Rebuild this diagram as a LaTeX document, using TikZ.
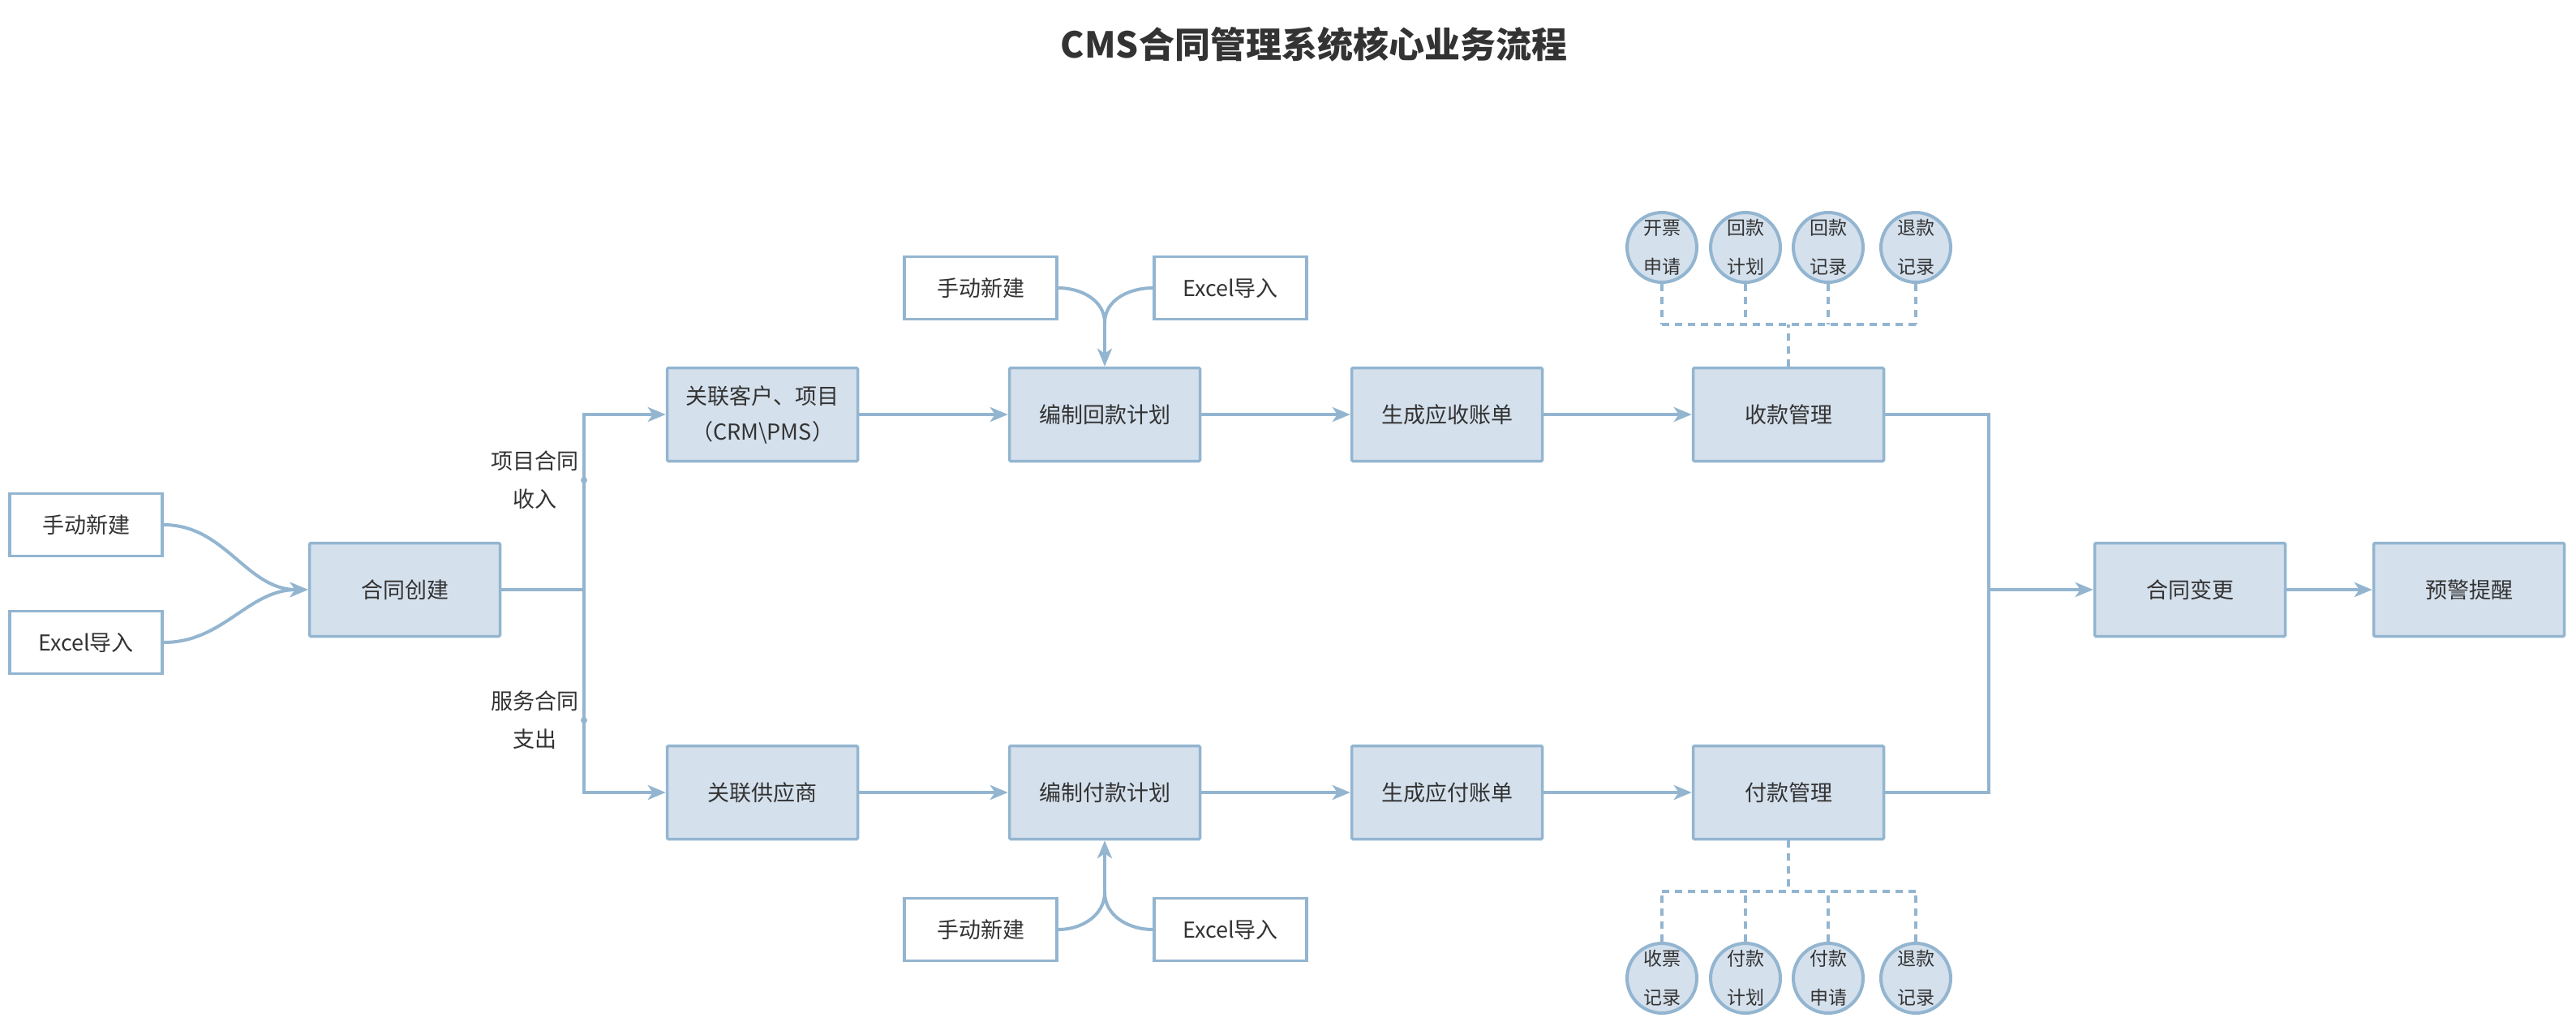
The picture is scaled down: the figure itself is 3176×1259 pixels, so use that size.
\documentclass[tikz,border=0pt]{standalone}
\usepackage{fontspec}
\setmainfont{Noto Sans CJK SC}
\usetikzlibrary{arrows.meta}

\definecolor{edgeblue}{RGB}{147,181,208}
\definecolor{boxfill}{RGB}{212,224,236}
\definecolor{ink}{RGB}{51,51,51}

\newcommand\bodytext{\fontsize{27}{44}\selectfont}
\newcommand\branchtext{\fontsize{27}{47}\selectfont}
\newcommand\circtext{\fontsize{23}{48}\selectfont}
\newcommand\titletext{\fontsize{44}{50}\selectfont\bfseries}

\tikzset{
  proc/.style={draw=edgeblue, fill=boxfill, line width=3.5pt, minimum width=235pt,
    minimum height=115pt, inner sep=0pt, rounded corners=1.5pt, align=center,
    text=ink, font=\bodytext},
  src/.style={draw=edgeblue, fill=white, line width=3.5pt, minimum width=188pt,
    minimum height=77pt, inner sep=0pt, align=center, text=ink, font=\bodytext},
  item/.style={circle, draw=edgeblue, fill=boxfill, line width=4pt, minimum size=86pt,
    inner sep=0pt, align=center, text=ink, font=\circtext},
  lbl/.style={align=center, inner sep=0pt, text=ink, font=\branchtext},
  dotmark/.style={circle, fill=edgeblue, inner sep=0pt, minimum size=8pt},
  conn/.style={draw=edgeblue, line width=4pt},
  arr/.style={conn, -{Stealth[length=22pt,width=18pt,inset=6pt]}},
  dashline/.style={draw=edgeblue, line width=4pt, dash pattern=on 9pt off 7pt},
}

\begin{document}
\begin{tikzpicture}[x=1pt,y=-1pt]
\useasboundingbox (0,0) rectangle (3176,1259);

% title
\node[text=ink, font=\titletext] (title) at (1620,55) {CMS合同管理系统核心业务流程};

% contract creation and its two sources
\node[src] (mA) at (106,647) {手动新建};
\node[src] (xA) at (106,792) {Excel导入};
\node[proc] (create) at (499,727) {合同创建};

% main process boxes
\node[proc] (linkC) at (940,511) {关联客户、项目\\（CRM\textbackslash PMS）};
\node[proc] (linkS) at (940,977) {关联供应商};
\node[proc] (planR) at (1362,511) {编制回款计划};
\node[proc] (planP) at (1362,977) {编制付款计划};
\node[proc] (billR) at (1784,511) {生成应收账单};
\node[proc] (billP) at (1784,977) {生成应付账单};
\node[proc] (recv) at (2205,511) {收款管理};
\node[proc] (pay) at (2205,977) {付款管理};
\node[proc] (change) at (2700,727) {合同变更};
\node[proc] (alert) at (3044,727) {预警提醒};

% plan sources
\node[src] (mB) at (1209,355) {手动新建};
\node[src] (xB) at (1517,355) {Excel导入};
\node[src] (mC) at (1209,1146) {手动新建};
\node[src] (xC) at (1517,1146) {Excel导入};

% receipt sub-functions
\node[item] (t1) at (2049,305) {开票\\申请};
\node[item] (t2) at (2152,305) {回款\\计划};
\node[item] (t3) at (2254,305) {回款\\记录};
\node[item] (t4) at (2362,305) {退款\\记录};

% payment sub-functions
\node[item] (b1) at (2049,1206) {收票\\记录};
\node[item] (b2) at (2152,1206) {付款\\计划};
\node[item] (b3) at (2254,1206) {付款\\申请};
\node[item] (b4) at (2362,1206) {退款\\记录};

% sources into contract creation
\draw[arr] (mA.east) to[out=0,in=180] (create.west);
\draw[arr] (xA.east) to[out=0,in=180] (create.west);

% fork into income / expense branches
\coordinate (fork) at (720,727);
\draw[conn] (create.east) -- (fork);
\draw[arr] (fork) |- (linkC.west);
\draw[arr] (fork) |- (linkS.west);
\node[dotmark] (dIn) at (720,592) {};
\node[dotmark] (dOut) at (720,888) {};
\node[lbl, anchor=east] (labIn) at (714,592) {项目合同\\收入};
\node[lbl, anchor=east] (labOut) at (714,888) {服务合同\\支出};

% income row
\draw[arr] (linkC.east) -- (planR.west);
\draw[arr] (planR.east) -- (billR.west);
\draw[arr] (billR.east) -- (recv.west);

% expense row
\draw[arr] (linkS.east) -- (planP.west);
\draw[arr] (planP.east) -- (billP.west);
\draw[arr] (billP.east) -- (pay.west);

% plan sources merging
\coordinate (jT) at (1362,398);
\draw[conn] (mB.east) to[out=0,in=90] (jT);
\draw[conn] (xB.west) to[out=180,in=90] (jT);
\draw[arr] (jT) -- (planR.north);
\coordinate (jB) at (1362,1100);
\draw[conn] (mC.east) to[out=0,in=-90] (jB);
\draw[conn] (xC.west) to[out=180,in=-90] (jB);
\draw[arr] (jB) -- (planP.south);

% merge into contract change
\coordinate (merge) at (2452,727);
\draw[conn] (recv.east) -| (merge);
\draw[conn] (pay.east) -| (merge);
\draw[arr] (merge) -- (change.west);
\draw[arr] (change.east) -- (alert.west);

% dashed links to sub-functions
\coordinate (tbus) at (2205,400);
\coordinate (bbus) at (2205,1099);
\draw[dashline] (recv.north) -- (tbus);
\draw[dashline] (t1.south |- tbus) -- (t4.south |- tbus);
\draw[dashline] (pay.south) -- (bbus);
\draw[dashline] (b1.north |- bbus) -- (b4.north |- bbus);
\foreach \k in {1,2,3,4}{
  \draw[dashline] (t\k.south) -- (t\k.south |- tbus);
  \draw[dashline] (b\k.north) -- (b\k.north |- bbus);
}
\end{tikzpicture}
\end{document}
